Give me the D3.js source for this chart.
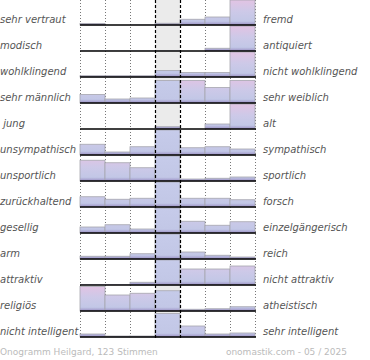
<!DOCTYPE html>
<html><head><meta charset="utf-8">
<script src="https://cdn.jsdelivr.net/npm/d3@7"></script>
<style>body{margin:0;background:#fff}svg{display:block}</style>
</head><body><svg id="c" width="370" height="360"></svg>
<script>
const leftLabels = ["sehr vertraut","modisch","wohlklingend","sehr männlich"," jung","unsympathisch","unsportlich","zurückhaltend","gesellig","arm","attraktiv","religiös","nicht intelligent"];
const rightLabels = ["fremd","antiquiert","nicht wohlklingend","sehr weiblich","alt","sympathisch","sportlich","forsch","einzelgängerisch","reich","nicht attraktiv","atheistisch","sehr intelligent"];
const columns = [1,2,3,4,5,6,7];
// bar heights per row (percent of row height)
const row01 = [6,0,1,7,23,32,100];
const row02 = [1,1,1,1,0,11,100];
const row03 = [5,5,5,26,18,18,100];
const row04 = [34,16,20,90,90,62,90];
const row05 = [0,0,0,9,0,20,100];
const row06 = [43,12,33,100,29,33,24];
const row07 = [83,73,53,100,8,11,16];
const row08 = [41,31,35,100,35,35,29];
const row09 = [24,33,16,100,47,31,45];
const row10 = [11,11,21,100,28,15,8];
const row11 = [2,2,11,100,64,64,76];
const row12 = [98,64,71,81,7,9,17];
const row13 = [12,4,4,94,44,12,16];
const rows = [row01,row02,row03,row04,row05,row06,row07,row08,row09,row10,row11,row12,row13];
const footerLeft = "Onogramm Heilgard, 123 Stimmen";
const footerRight = "onomastik.com - 05 / 2025";

const svg = d3.select("#c");
const x = d3.scaleBand().domain(columns).range([80,255]);
const y = d3.scaleBand().domain(d3.range(rows.length)).range([-1,337]);
const h = d3.scaleLinear().domain([0,100]).range([0,25]).clamp(true);
const base = i => y(i) + y.bandwidth();

const defs = svg.append("defs");
rows.forEach((r,i)=>{
  const g = defs.append("linearGradient").attr("id","g"+i).attr("gradientUnits","userSpaceOnUse")
    .attr("x1",0).attr("x2",0).attr("y1",base(i)-25).attr("y2",base(i));
  g.append("stop").attr("offset",0).attr("stop-color","#e2c3e3");
  g.append("stop").attr("offset",0.45).attr("stop-color","#cdc9e8");
  g.append("stop").attr("offset",0.85).attr("stop-color","#c2c7e6");
  g.append("stop").attr("offset",1).attr("stop-color","#9a8fc4");
  const m = defs.append("linearGradient").attr("id","m"+i).attr("gradientUnits","userSpaceOnUse")
    .attr("x1",0).attr("x2",0).attr("y1",base(i)-25).attr("y2",base(i));
  m.append("stop").attr("offset",0).attr("stop-color","#c6cbea");
  m.append("stop").attr("offset",0.85).attr("stop-color","#c2c7e6");
  m.append("stop").attr("offset",1).attr("stop-color","#9a8fc4");
});

// neutral column background
svg.append("rect").attr("x",x(4)).attr("y",0).attr("width",x.bandwidth()).attr("height",base(12)+1).attr("fill","#ebebeb");

// dotted grid
const bounds = columns.map(c=>x(c)).concat([x(7)+x.bandwidth()]);
svg.append("g").selectAll("line").data(bounds.filter((b,k)=>k!==3&&k!==4)).join("line")
  .attr("x1",d=>d+0.5).attr("x2",d=>d+0.5).attr("y1",0).attr("y2",base(12)+2)
  .attr("stroke","#777").attr("stroke-width",1).attr("stroke-dasharray","1,2");

// bars
rows.forEach((r,i)=>{
  const g = svg.append("g");
  g.selectAll("rect").data(r.map((v,k)=>({v,c:columns[k]}))).join("rect")
    .attr("x",d=>x(d.c)).attr("width",x.bandwidth())
    .attr("y",d=>base(i)-h(d.v)).attr("height",d=>h(d.v))
    .attr("fill",d=>d.c===4?`url(#m${i})`:`url(#g${i})`)
    .attr("stroke",d=>h(d.v)>0.5?"#a6a6ae":"none").attr("stroke-width",0.8);
});

// dashed neutral lines
svg.append("g").selectAll("line").data([bounds[3],bounds[4]]).join("line")
  .attr("x1",d=>d+0.5).attr("x2",d=>d+0.5).attr("y1",0).attr("y2",base(12)+2)
  .attr("stroke","#000").attr("stroke-width",1.2).attr("stroke-dasharray","3,2");

// baselines
svg.append("g").selectAll("line").data(rows.map((r,i)=>i)).join("line")
  .attr("x1",80).attr("x2",256).attr("y1",i=>base(i)).attr("y2",i=>base(i))
  .attr("stroke","#000").attr("stroke-width",1.6);

// labels
const font = "'DejaVu Sans', sans-serif";
svg.append("g").selectAll("text").data(leftLabels).join("text")
  .attr("x",0).attr("y",(d,i)=>base(i)-2).text(d=>d)
  .attr("font-family",font).attr("font-size",10).attr("font-style","italic").attr("fill","#555")
  .style("white-space","pre");
svg.append("g").selectAll("text").data(rightLabels).join("text")
  .attr("x",263).attr("y",(d,i)=>base(i)-2).text(d=>d)
  .attr("font-family",font).attr("font-size",10).attr("font-style","italic").attr("fill","#555");

svg.append("text").attr("x",0).attr("y",355).text(footerLeft)
  .attr("font-family",font).attr("font-size",9).attr("fill","#bbb");
svg.append("text").attr("x",347).attr("y",355).attr("text-anchor","end").text(footerRight)
  .attr("font-family",font).attr("font-size",9).attr("fill","#bbb");
</script></body></html>
